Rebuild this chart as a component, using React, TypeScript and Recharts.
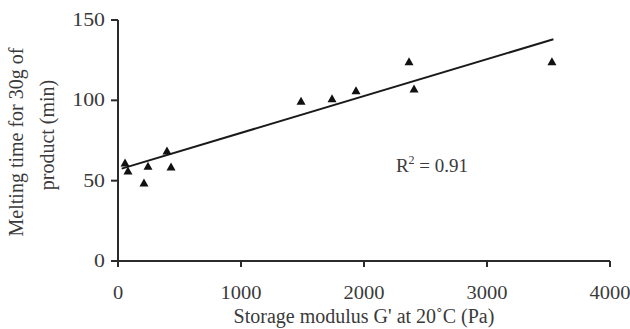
import React from "react";
import { ScatterChart, Scatter, XAxis, YAxis, Label } from "recharts";

// Storage modulus G' (Pa) vs melting time (min)
const modulusPa = [57, 81, 211, 244, 398, 431, 1488, 1740, 1935, 2366, 2407, 3528];
const meltMin = [61, 56, 48.5, 59, 68.5, 58.5, 99.5, 101, 106, 124, 107, 124];

// linear fit endpoints
const fitX = [30, 3540];
const fitY = [57.5, 138];

const xTicks = [0, 1000, 2000, 3000, 4000];
const yTicks = [0, 50, 100, 150];

const points = modulusPa.map((x, i) => ({ x, y: meltMin[i] }));
const fit = fitX.map((x, i) => ({ x, y: fitY[i] }));

const FONT = "'Liberation Serif', 'Times New Roman', serif";
const INK = "#2b2b2b";
const TEXT = "#3a3a3a";

const Triangle = (props: any) => {
  const { cx, cy } = props;
  if (cx == null || cy == null) return <g />;
  return <polygon points={`${cx},${cy - 4.5} ${cx + 4.5},${cy + 3.5} ${cx - 4.5},${cy + 3.5}`} fill="#111" />;
};

const NoDot = () => <g />;

const XTick = (props: any) => {
  const { x, y, payload } = props;
  return (
    <g transform={`translate(${x},${y + 30}) scale(1.08,1)`}>
      <text textAnchor="middle" fontFamily={FONT} fontSize={19} fill={TEXT}>
        {payload.value}
      </text>
    </g>
  );
};

const YTick = (props: any) => {
  const { x, y, payload } = props;
  return (
    <g transform={`translate(${x - 2},${y + 6}) scale(1.15,1)`}>
      <text textAnchor="end" fontFamily={FONT} fontSize={19} fill={TEXT}>
        {payload.value}
      </text>
    </g>
  );
};

const YTitle = () => (
  <g fontFamily={FONT} fontSize={20} fill={TEXT}>
    <text transform="translate(23,142) rotate(-90)" textAnchor="middle">
      Melting time for 30g of
    </text>
    <text transform="translate(54,135) rotate(-90)" textAnchor="middle">
      product (min)
    </text>
  </g>
);

export default function App() {
  return (
    <div style={{ position: "absolute", left: 0, top: 0, width: 630, height: 329, background: "#fff" }}>
      <ScatterChart width={630} height={329} margin={{ top: 20, right: 20, bottom: 0, left: 0 }}>
        <XAxis
          type="number"
          dataKey="x"
          domain={[0, 4000]}
          ticks={xTicks}
          height={68}
          axisLine={{ stroke: INK, strokeWidth: 2 }}
          tickLine={{ stroke: INK, strokeWidth: 2 }}
          tickSize={6}
          tickMargin={2}
          tick={<XTick />}
          interval={0}
        >
          <Label
            value="Storage modulus G' at 20˚C (Pa)"
            position="insideBottom"
            offset={6}
            style={{ fontFamily: FONT, fontSize: 20, fill: TEXT }}
          />
        </XAxis>
        <YAxis
          type="number"
          dataKey="y"
          domain={[0, 150]}
          ticks={yTicks}
          width={118}
          axisLine={{ stroke: INK, strokeWidth: 2 }}
          tickLine={{ stroke: INK, strokeWidth: 2 }}
          tickSize={7}
          tickMargin={4}
          tick={<YTick />}
          interval={0}
        >
          <Label content={<YTitle />} />
        </YAxis>
        <Scatter data={fit} line={{ stroke: "#1a1a1a", strokeWidth: 2 }} shape={NoDot} isAnimationActive={false} />
        <Scatter data={points} shape={Triangle} isAnimationActive={false} />
        <text x={432} y={172} textAnchor="middle" fontFamily={FONT} fontSize={19} fill={TEXT}>
          R<tspan fontSize={12} dy={-8}>2</tspan>
          <tspan dy={8}> = 0.91</tspan>
        </text>
      </ScatterChart>
    </div>
  );
}
